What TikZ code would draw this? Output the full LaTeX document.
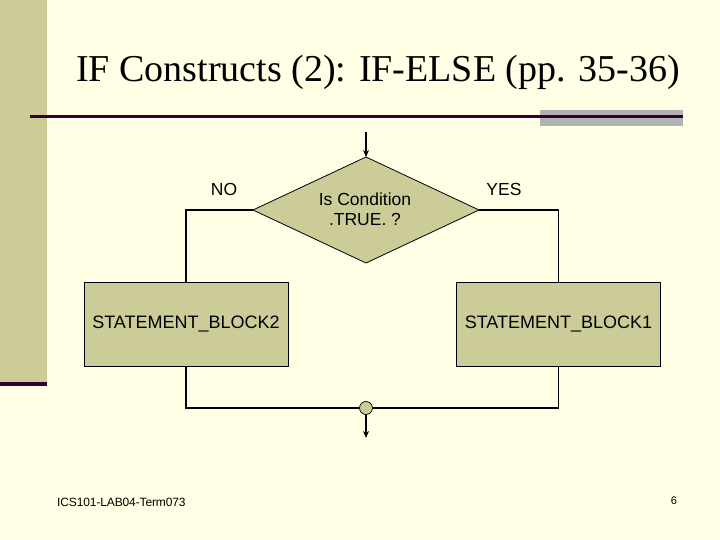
\documentclass[tikz,border=0pt]{standalone}
\usepackage{fontspec}
\setmainfont{Liberation Serif}
\setsansfont{Liberation Sans}
\usetikzlibrary{shapes.geometric,arrows.meta}
\definecolor{bgc}{RGB}{255,255,230}
\definecolor{khaki}{RGB}{204,204,153}
\definecolor{darkp}{RGB}{51,0,51}
\definecolor{grayb}{RGB}{178,178,178}
\tikzset{
  blk/.style={draw=black, fill=khaki, minimum width=204pt, minimum height=84pt, inner sep=0pt, line width=0.8pt, font=\sffamily\fontsize{18}{21}\selectfont},
  lbl/.style={font=\sffamily\fontsize{17.5}{20}\selectfont, inner sep=0pt},
  conn/.style={draw=black, line width=1.2pt},
  arr/.style={draw=black, line width=1.8pt, -{Stealth[length=7pt,width=6pt]}},
}
\begin{document}
\begin{tikzpicture}[x=1pt,y=-1pt]
\fill[bgc] (0,0) rectangle (720,540);
\useasboundingbox (0,0) rectangle (720,540);
\fill[khaki] (0,0) rectangle (47,382);
\fill[darkp] (0,382) rectangle (47,386);
\node[font=\fontsize{38}{40}\selectfont, text=black, inner sep=0pt] (title) at (378,72) {IF Constructs (2): IF-ELSE (pp. 35-36)};
\fill[grayb] (540,110) rectangle (683,126);
\fill[darkp] (30,115.5) rectangle (683,118.5);
% diamond
\draw[fill=khaki, line width=0.8pt] (366,157) -- (479,210) -- (366,263) -- (253,210) -- cycle;
\coordinate (dtop) at (366,157);
\coordinate (dleft) at (253,210);
\coordinate (dright) at (479,210);
\coordinate (start) at (366,132);
\node[lbl, align=center] (cond) at (365,209) {Is Condition\\.TRUE. ?};
\node[lbl] (no) at (224,189) {NO};
\node[lbl] (yes) at (504,189) {YES};
\node[blk] (b2) at (186,324) {STATEMENT\_BLOCK2};
\node[blk] (b1) at (558.5,324) {STATEMENT\_BLOCK1};
\node[circle, draw=black, fill=khaki, minimum size=13pt, inner sep=0pt, line width=0.7pt] (join) at (366,408) {};
\coordinate (endp) at (366,438);
\draw[arr] (start) -- (dtop);
\draw[conn] (dleft) -| (b2.north);
\draw[conn] (dright) -| (b1.north);
\draw[conn] (b2.south) |- (join.west);
\draw[conn] (b1.south) |- (join.east);
\draw[arr] (join.south) -- (endp);
\node[font=\sffamily\fontsize{12}{13}\selectfont, anchor=west, inner sep=0pt] (foot) at (57,502) {\addfontfeature{LetterSpace=-1}ICS101-LAB04-Term073};
\node[font=\sffamily\fontsize{11}{12}\selectfont, inner sep=0pt] (pg) at (674,501) {6};
\end{tikzpicture}
\end{document}
